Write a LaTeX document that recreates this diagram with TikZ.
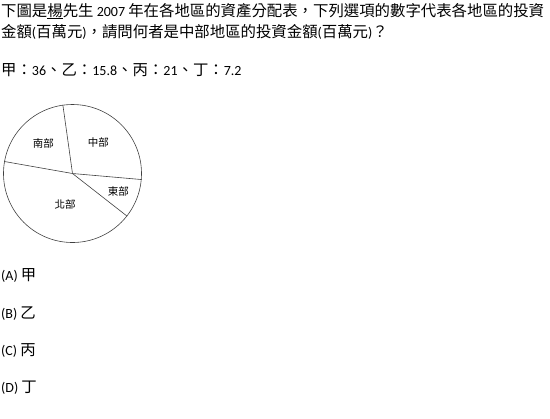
\documentclass[tikz,border=0pt]{standalone}
\usepackage{fontspec}
\setmainfont[Numbers=Lining]{Carlito}
\newfontfamily\cjk{Noto Sans CJK TC}
\newcommand{\zh}[1]{{\cjk\fontsize{15.4bp}{18bp}\selectfont #1}}
\begin{document}
\begin{tikzpicture}[x=1bp,y=-1bp,
    line/.style={anchor=base west,inner sep=0pt,font=\fontsize{14bp}{16bp}\selectfont},
    region/.style={font=\cjk\fontsize{10.5bp}{12bp}\selectfont},
    edge/.style={draw=black!75,line width=0.6bp}]
  \useasboundingbox (0,0) rectangle (550,418);
  \node[line] (q1) at (1,16) {\zh{下圖是\underline{楊}先生} 2007 \zh{年在各地區的資產分配表，下列選項的數字代表各地區的投資}};
  \node[line] (q2) at (1,37) {\zh{金額}(\zh{百萬元})\zh{，請問何者是中部地區的投資金額}(\zh{百萬元})\zh{？}};
  \node[line] (data) at (1,75) {\zh{甲：}36\zh{、乙：}15.8\zh{、丙：}21\zh{、丁：}7.2};
  % pie chart
  \node[circle,draw=black!75,line width=0.6bp,minimum size=138bp,inner sep=0pt] (pie) at (72.5,173.5) {};
  \draw[edge] (pie.center) -- (pie.98);
  \draw[edge] (pie.center) -- (pie.-5);
  \draw[edge] (pie.center) -- (pie.-38);
  \draw[edge] (pie.center) -- (pie.170);
  \node[region] (south) at (43.3,143.3) {南部};
  \node[region] (middle) at (98.3,142.7) {中部};
  \node[region] (east) at (118.3,191) {東部};
  \node[region] (north) at (65,204.3) {北部};
  % options
  \node[line] (optA) at (1,280) {(A) \zh{甲}};
  \node[line] (optB) at (1,318) {(B) \zh{乙}};
  \node[line] (optC) at (1,355) {(C) \zh{丙}};
  \node[line] (optD) at (1,392) {(D) \zh{丁}};
\end{tikzpicture}
\end{document}
